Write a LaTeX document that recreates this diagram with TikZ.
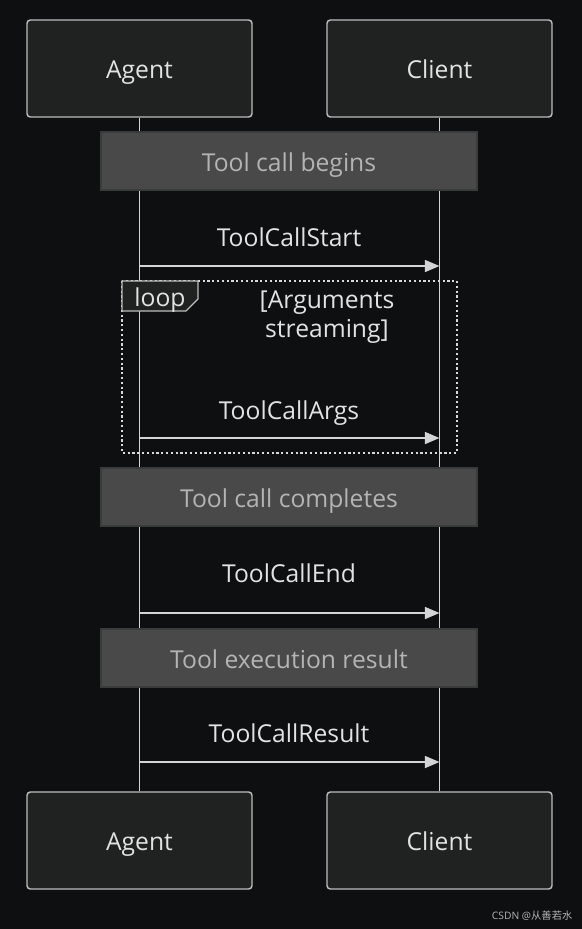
\documentclass[tikz,border=0pt]{standalone}
\usepackage{fontspec}
\setmainfont{Open Sans}
\newfontfamily\cjkfont{Noto Sans CJK SC}
\usetikzlibrary{arrows.meta}
\definecolor{bgdark}{HTML}{0E0F11}
\definecolor{boxfill}{HTML}{202221}
\definecolor{boxline}{HTML}{BDBDBD}
\definecolor{lifeline}{HTML}{D4D4D4}
\definecolor{notefill}{HTML}{484948}
\definecolor{noteline}{HTML}{3A3B3B}
\definecolor{notetext}{HTML}{B4B4B4}
\definecolor{msgtext}{HTML}{E2E2E2}
\tikzset{
  bigfont/.style = {font = \fontsize{18.5}{22}\selectfont, text height = 15.5pt, text depth = 0pt},
  actor/.style = {draw = boxline, fill = boxfill, rounded corners = 2.5pt, line width = 1.1pt,
    minimum width = 168.75pt, minimum height = 72.75pt, text = msgtext, bigfont},
  note/.style = {draw = noteline, fill = notefill, line width = 1pt,
    minimum width = 282pt, minimum height = 43.5pt, text = notetext, bigfont},
  msglabel/.style = {text = msgtext, bigfont},
  msg/.style = {draw = lifeline, line width = 1.3pt, -{Triangle[length = 11pt, width = 9pt]}},
  life/.style = {draw = lifeline, line width = 1.3pt}
}
\begin{document}
\begin{tikzpicture}[x = 0.75pt, y = -0.75pt]
\fill [bgdark] (0,0) rectangle (582,929);
\useasboundingbox (0,0) rectangle (582,929);
% participants
\node [actor] (agentTop) at (139.5,68.5) {Agent};
\node [actor] (clientTop) at (439.5,68.5) {Client};
\node [actor] (agentBot) at (139.5,840.5) {Agent};
\node [actor] (clientBot) at (439.5,840.5) {Client};
\draw [life] (agentTop.south) -- (agentBot.north);
\draw [life] (clientTop.south) -- (clientBot.north);
% notes
\node [note] (noteBegin) at (289,161) {Tool call begins};
\node [note] (noteDone) at (289,497) {Tool call completes};
\node [note] (noteResult) at (289,658) {Tool execution result};
% loop frame
\draw [white!85!black, line width = 1.6pt, dotted] (122,281) rectangle (457,453);
\draw [fill = boxfill, draw = boxline, line width = 1pt] (122,281) -- (198,281) -- (198,299) -- (186,311) -- (122,311) -- cycle;
\node [msglabel] (loopTag) at (160,296) {loop};
\node [text = msgtext, font = \fontsize{18.5}{22}\selectfont, align = center] (loopCond) at (327,317) {[Arguments\\streaming]};
% messages
\foreach \name/\txt/\ty/\ay in {start/ToolCallStart/236/266, args/ToolCallArgs/409/438,
    finish/ToolCallEnd/572/613, result/ToolCallResult/732/762}{
  \coordinate (\name A) at (139.5,\ay);
  \coordinate (\name C) at (439.5,\ay);
  \node [msglabel] (\name L) at (289,\ty) {\txt};
  \draw [msg] (\name A) -- (\name C);
}
% watermark
\node [text = notetext, font = \fontsize{7.7}{9}\selectfont, anchor = east] (mark) at (577,916) {CSDN @{\cjkfont 从善若水}};
\end{tikzpicture}
\end{document}
